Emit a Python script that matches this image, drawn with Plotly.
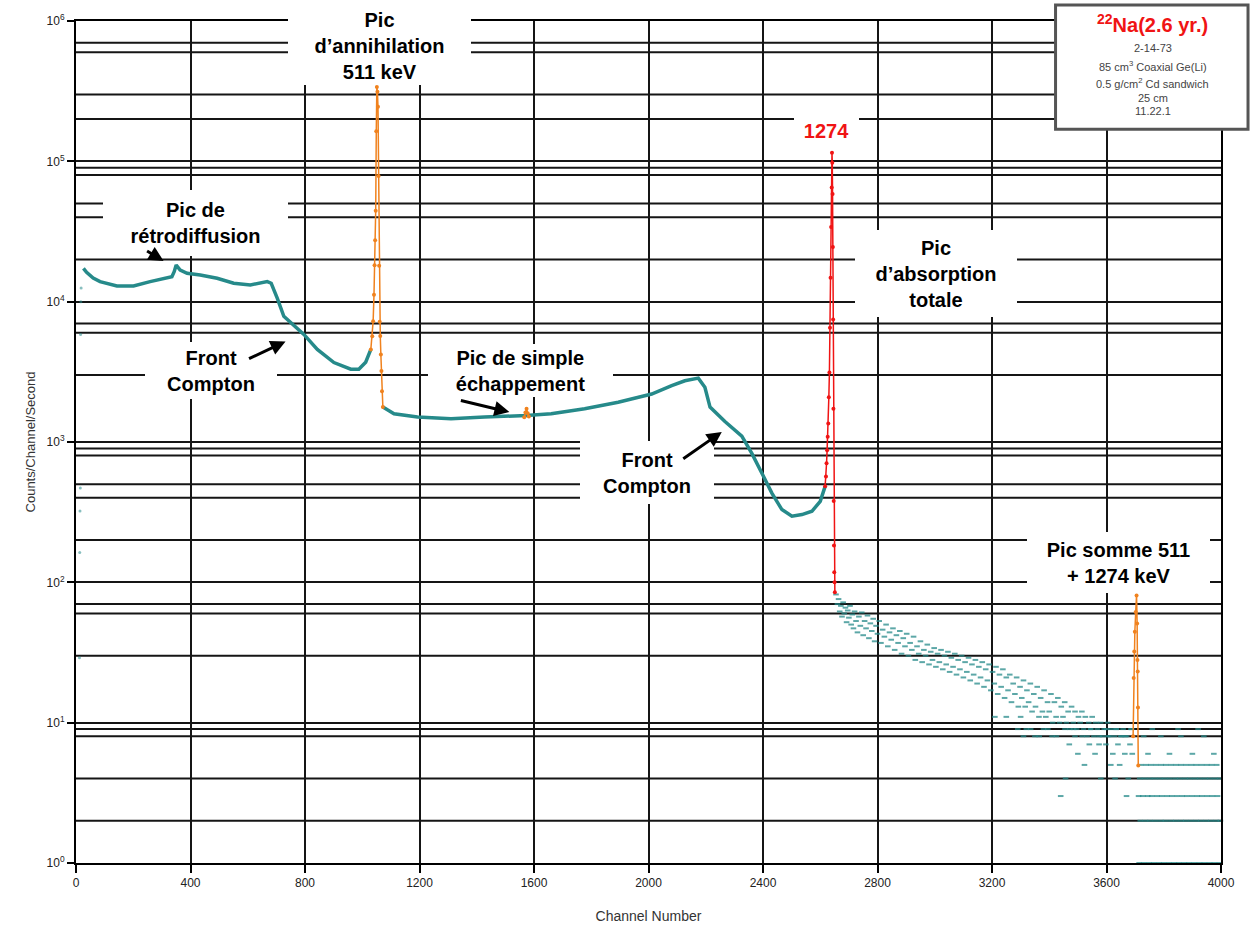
import plotly.graph_objects as go

FONT = "Liberation Sans, Arial, sans-serif"
TEAL = "rgb(38,138,138)"
ORANGE = "rgb(240,130,30)"
RED = "rgb(240,20,20)"
GRID = "#151515"

# ---- spectrum data (channel, counts/channel/second) ----
# first channels (isolated points near the threshold)
edge_ch = [12, 13, 14, 15, 16, 17, 18]
edge_cps = [29, 163, 323, 470, 5840, 10000, 12500]

# continuum below the annihilation peak
low_ch = [26, 37, 60, 84, 143, 201, 259, 306, 335, 343, 350, 364, 388, 434, 493,
          551, 609, 668, 682, 703, 726, 796, 843, 901, 960, 988, 1012, 1030]
low_cps = [17270, 16180, 14750, 13900, 12950, 12950, 13900, 14520, 15070, 16340, 18230,
           16800, 15920, 15490, 14680, 13530, 13160, 13900, 13530, 10600, 7860, 5840,
           4570, 3680, 3300, 3300, 3700, 4570]

# continuum between the 511 keV and 1274 keV peaks
mid_ch = [1072, 1111, 1193, 1310, 1427, 1500, 1573, 1660, 1777, 1894, 2011, 2081, 2127,
          2174, 2197, 2215, 2267, 2326, 2361, 2402, 2431, 2466, 2501, 2536, 2571, 2600, 2617]
mid_cps = [1773, 1590, 1506, 1466, 1506, 1520, 1546, 1592, 1725, 1922, 2197, 2518, 2731,
           2853, 2455, 1773, 1400, 1100, 829, 568, 432, 330, 296, 304, 321, 378, 483]

# 511 keV annihilation peak
p511_ch = [1030, 1035, 1038, 1041, 1043, 1045, 1047, 1049, 1051, 1053, 1055, 1057, 1059,
           1061, 1063, 1065, 1067, 1069, 1072]
p511_cps = [4570, 5680, 7240, 11200, 18200, 27400, 44500, 164000, 339000, 313000, 245000,
            78700, 18000, 7200, 5700, 4200, 3200, 2300, 1773]

# single escape peak
esc_ch = [1566, 1570, 1574, 1578, 1582]
esc_cps = [1500, 1620, 1725, 1600, 1520]

# 1274 keV full-energy peak
p1274_ch = [2617, 2620, 2622, 2624, 2626, 2628, 2630, 2632, 2634, 2636, 2638, 2640, 2641,
            2642, 2643, 2644, 2645, 2646, 2647, 2648, 2649, 2650, 2651]
p1274_cps = [483, 568, 705, 875, 1089, 1352, 2085, 3130, 6510, 14800, 34000, 65200, 115000,
             97700, 58500, 24500, 7450, 1725, 380, 183, 118, 100, 85]

# 511 + 1274 keV sum peak
sum_ch = [3693, 3695, 3697, 3699, 3702, 3705, 3707, 3708, 3709, 3710, 3711]
sum_cps = [8.0, 20.8, 32.1, 44.4, 61.5, 80.7, 50.8, 28.0, 23.2, 12.8, 4.95]

# high-energy tail above the 1274 keV peak
tail_ch = [2655, 2660, 2664, 2668, 2672, 2676, 2680, 2684, 2688, 2692, 2696, 2700, 2704,
           2708, 2712, 2716, 2720, 2725, 2730, 2735, 2740, 2745, 2750, 2755, 2760, 2765,
           2770, 2775, 2780, 2785, 2790, 2795, 2800, 2806, 2812, 2818, 2824, 2830, 2836,
           2842, 2848, 2854, 2860, 2866, 2872, 2878, 2884, 2890, 2896, 2902, 2908, 2914,
           2920, 2926, 2932, 2938, 2944, 2950, 2956, 2962, 2968, 2974, 2980, 2986, 2992,
           2998, 3004, 3010, 3016, 3022, 3028, 3034, 3040, 3046, 3052, 3058, 3064, 3070,
           3076, 3082, 3088, 3094, 3100, 3106, 3112, 3118, 3124, 3130, 3136, 3142, 3148,
           3154, 3160, 3166, 3172, 3178, 3184, 3190, 3196, 3202, 3208, 3214, 3220, 3226,
           3232, 3238, 3244, 3250, 3256, 3262, 3268, 3274, 3280, 3286, 3292, 3298, 3304,
           3310, 3316, 3322, 3328, 3334, 3340, 3346, 3352, 3358, 3364, 3370, 3376, 3382,
           3388, 3394, 3400, 3406, 3412, 3418, 3424, 3430, 3436, 3442, 3448, 3454, 3460,
           3466, 3472, 3478, 3484, 3490, 3496, 3502, 3508, 3514, 3520, 3526, 3532, 3538,
           3544, 3550, 3556, 3562, 3568, 3574, 3580, 3586, 3592, 3598, 3604, 3610, 3616,
           3622, 3628, 3634, 3640, 3646, 3652, 3658, 3664, 3670, 3676, 3682, 3688]
tail_cps = [82, 70, 76, 62, 68, 57, 72, 60, 66, 52, 63, 56, 68,
            50, 59, 47, 62, 53, 44, 57, 49, 61, 42, 53, 47, 58,
            40, 51, 45, 55, 38, 49, 43, 53, 37, 46, 41, 50, 35,
            44, 39, 47, 33, 42, 37, 45, 31, 40, 35, 43, 30, 37,
            33, 41, 28, 35, 31, 38, 27, 33, 30, 36, 26, 32, 28,
            34, 25, 31, 27, 33, 24, 30, 26, 32, 23, 29, 25, 31,
            22, 28, 24, 30, 21, 27, 23, 29, 20, 26, 22, 28, 19,
            25, 21, 27, 18, 24, 20, 26, 17, 23, 19, 25, 16, 22,
            18, 24, 15, 21, 17, 22, 14, 19, 16, 21, 13, 18, 15,
            20, 13, 17, 14, 19, 12, 16, 13, 18, 11, 15, 12, 17,
            11, 14, 12, 16, 10, 14, 11, 15, 10, 13, 11, 14, 10,
            12, 9, 13, 10, 12, 9, 11, 10, 12, 9, 11, 8, 10,
            9, 11, 8, 10, 9, 7, 10, 8, 9, 7, 10, 8, 9,
            6, 8, 9, 7, 5, 8, 9, 6, 8, 4, 7, 9]

# sparse low-count channels between 3200 and 3700
sparse_ch = [3210, 3250, 3290, 3300, 3310, 3320, 3335, 3350, 3365, 3380, 3395, 3410, 3425,
             3440, 3455, 3457, 3470, 3485, 3490, 3500, 3515, 3523, 3540, 3545, 3560, 3575,
             3580, 3600, 3605, 3615, 3630, 3635, 3650, 3665, 3670, 3685, 3690]
sparse_cps = [11, 11, 9, 11, 8, 9, 9, 8, 8, 9, 9, 8, 8,
              3, 9, 4, 7, 9, 8, 6, 8, 5, 7, 9, 6, 8,
              4, 9, 8, 5, 4, 9, 8, 8, 3, 9, 6]

# discrete low-count levels above the sum peak
floor_ch = [3714, 3731, 3749, 3766, 3784, 3801, 3819, 3837, 3854, 3872, 3889, 3907, 3925, 3942, 3960, 3977, 3995,
            3718, 3736, 3753, 3771, 3790, 3806, 3825, 3842, 3860, 3877, 3895, 3913, 3930, 3948, 3965, 3983, 3998,
            3712, 3727, 3744, 3758, 3776, 3793, 3811, 3828, 3846, 3864, 3881, 3899, 3917, 3934, 3952, 3970, 3988,
            3716, 3733, 3751, 3768, 3786, 3803, 3821, 3840, 3857, 3875, 3892, 3910, 3927, 3945, 3962, 3980, 3997,
            3720, 3738, 3755, 3773, 3791, 3808, 3826, 3844, 3861, 3879, 3897, 3914, 3932, 3950, 3967, 3985,
            3745, 3820, 3900, 3975, 3730, 3790, 3860, 3940, 3760, 3850, 3920]
floor_cps = [1, 1, 1, 1, 1, 1, 1, 1, 1, 1, 1, 1, 1, 1, 1, 1, 1,
             2, 2, 2, 2, 2, 2, 2, 2, 2, 2, 2, 2, 2, 2, 2, 2, 2,
             3, 3, 3, 3, 3, 3, 3, 3, 3, 3, 3, 3, 3, 3, 3, 3, 3,
             4, 4, 4, 4, 4, 4, 4, 4, 4, 4, 4, 4, 4, 4, 4, 4, 4,
             5, 5, 5, 5, 5, 5, 5, 5, 5, 5, 5, 5, 5, 5, 5, 5,
             6, 6, 6, 6, 8, 8, 8, 8, 9, 9, 9]

# ---- axes ----
x_ticks = [0, 400, 800, 1200, 1600, 2000, 2400, 2800, 3200, 3600, 4000]
y_decades = [1, 10, 100, 1000, 10000, 100000, 1000000]
y_decade_labels = ["10<sup>0</sup>", "10<sup>1</sup>", "10<sup>2</sup>", "10<sup>3</sup>",
                   "10<sup>4</sup>", "10<sup>5</sup>", "10<sup>6</sup>"]
# ruled horizontal lines between the decades
ruled_levels = [2, 4, 8, 9, 30, 60, 70, 200, 400, 500, 800, 900, 3000, 6000, 7000,
                20000, 40000, 50000, 80000, 90000, 200000, 300000, 600000, 700000]

fig = go.Figure()

rx, ry = [], []
for v in ruled_levels:
    rx += [0, 4000, None]
    ry += [v, v, None]
fig.add_trace(go.Scatter(x=rx, y=ry, mode="lines", line=dict(color=GRID, width=2),
                         hoverinfo="skip", showlegend=False))

fig.add_trace(go.Scatter(x=edge_ch, y=edge_cps, mode="markers",
                         marker=dict(color="rgba(38,138,138,0.55)", size=3),
                         showlegend=False))
for cx, cy in ((low_ch, low_cps), (mid_ch, mid_cps)):
    fig.add_trace(go.Scatter(x=cx, y=cy, mode="lines",
                             line=dict(color=TEAL, width=3.5), showlegend=False))

dash_marker = dict(symbol="line-ew", size=4, color="rgba(38,138,138,0.75)",
                   line=dict(color="rgba(38,138,138,0.75)", width=2))
fig.add_trace(go.Scatter(x=tail_ch + sparse_ch, y=tail_cps + sparse_cps, mode="markers",
                         marker=dash_marker, showlegend=False))
fig.add_trace(go.Scatter(x=floor_ch, y=floor_cps, mode="markers", cliponaxis=False,
                         marker=dash_marker, showlegend=False))

for px, py, col in ((p511_ch, p511_cps, ORANGE), (esc_ch, esc_cps, ORANGE),
                    (p1274_ch, p1274_cps, RED), (sum_ch, sum_cps, ORANGE)):
    fig.add_trace(go.Scatter(x=px, y=py, mode="lines+markers",
                             line=dict(color=col, width=1.5),
                             marker=dict(color=col, size=4), showlegend=False))

# ---- labels ----
def label(text, ch, log_cps, w, h, color="black", size=20):
    fig.add_annotation(x=ch, y=log_cps, xref="x", yref="y", text=f"<b>{text}</b>",
                       showarrow=False, bgcolor="white", width=w, height=h,
                       borderpad=0, borderwidth=0, align="center", valign="middle",
                       font=dict(family=FONT, size=size, color=color))

label("Pic<br>d’annihilation<br>511 keV", 1059, 5.821, 183, 78)
label("Pic de<br>rétrodiffusion", 419, 4.564, 185, 66)
label("Front<br>Compton", 473, 3.509, 132, 57)
label("Pic de simple<br>échappement", 1553, 3.512, 185, 53)
label("Front<br>Compton", 1993, 2.785, 134, 63)
label("1274", 2623, 5.221, 65, 25, color=RED)
label("Pic<br>d’absorption<br>totale", 3005, 4.201, 162, 87)
label("Pic somme 511<br>+ 1274 keV", 3641, 2.138, 183, 61)

def arrow(ch, log_cps, ax, ay):
    fig.add_annotation(x=ch, y=log_cps, xref="x", yref="y", text="", showarrow=True,
                       ax=ax, ay=ay, arrowhead=2, arrowsize=1, arrowwidth=3,
                       arrowcolor="black", standoff=0)

arrow(306, 4.289, -18, -11)
arrow(732, 3.717, -38, 18)
arrow(1514, 3.213, -50, -12)
arrow(2256, 3.072, -40, 28)

# source information box
fig.add_shape(type="rect", xref="paper", yref="paper", x0=0.8555, x1=1.0236,
              y0=0.8714, y1=1.0189, line=dict(color="#555", width=3),
              fillcolor="white", layer="above")
info_lines = [("<b><sup>22</sup>Na(2.6 yr.)</b>", 0.9965, 20, RED),
              ("2-14-73", 0.9681, 11, "#444"),
              ("85 cm<sup>3</sup> Coaxial Ge(Li)", 0.9469, 11, "#444"),
              ("0.5 g/cm<sup>2</sup> Cd sandwich", 0.9268, 11, "#444"),
              ("25 cm", 0.9091, 11, "#444"),
              ("11.22.1", 0.8926, 11, "#444")]
for txt, yy, sz, col in info_lines:
    fig.add_annotation(x=0.9405, y=yy, xref="paper", yref="paper", text=txt,
                       showarrow=False, xanchor="center", yanchor="middle",
                       font=dict(family=FONT, size=sz, color=col))

fig.update_layout(
    width=1253, height=937, autosize=False,
    margin=dict(l=76, r=32, t=16, b=74),
    paper_bgcolor="white", plot_bgcolor="white",
    showlegend=False,
    font=dict(family=FONT, color="#222"),
    xaxis=dict(range=[0, 4000], tickvals=x_ticks, ticks="outside", ticklen=8,
               tickwidth=2, tickcolor="black", showgrid=True, gridcolor=GRID,
               gridwidth=2, showline=True, linecolor="black", linewidth=2,
               mirror=True, zeroline=False,
               tickfont=dict(family=FONT, size=12, color="#222"),
               title=dict(text="Channel Number", standoff=22,
                          font=dict(family=FONT, size=14, color="#333"))),
    yaxis=dict(type="log", range=[0, 6], tickvals=y_decades, ticktext=y_decade_labels,
               ticks="outside", ticklen=7, tickwidth=2, tickcolor="black",
               showgrid=True, gridcolor=GRID, gridwidth=2, showline=True,
               linecolor="black", linewidth=2, mirror=True, zeroline=False,
               tickfont=dict(family=FONT, size=12, color="#222"),
               title=dict(text="Counts/Channel/Second", standoff=8,
                          font=dict(family=FONT, size=13, color="#333"))),
)

fig.write_html("out.html")
